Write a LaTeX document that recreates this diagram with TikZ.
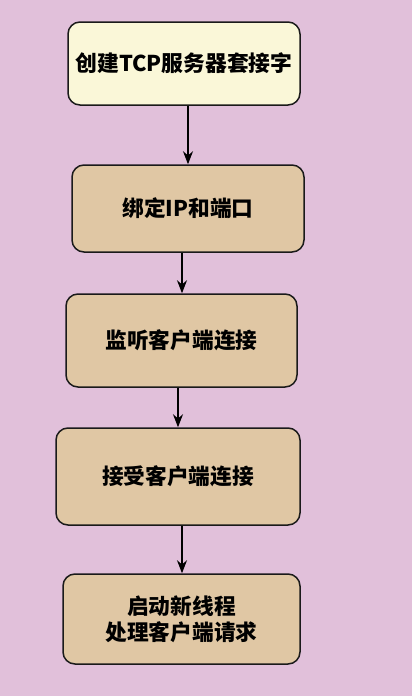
\documentclass[tikz,border=0pt]{standalone}
\usepackage{fontspec}
\newfontfamily\cjk{Noto Sans CJK SC}
\usetikzlibrary{arrows.meta}
\definecolor{pagebg}{RGB}{225,192,218}
\definecolor{startfill}{RGB}{250,247,216}
\definecolor{stepfill}{RGB}{224,199,164}
\definecolor{edge}{RGB}{26,26,26}
\tikzset{
  stepbox/.style={draw=edge, line width=1.5pt, rounded corners=12pt,
    fill=stepfill, inner sep=0pt, align=center,
    font=\cjk\bfseries\fontsize{21.7}{26}\selectfont},
  startbox/.style={stepbox, fill=startfill,
    font=\cjk\bfseries\fontsize{21.8}{26}\selectfont},
  flow/.style={draw=black, line width=1.2pt, -{Stealth[length=13pt,width=10pt]}}
}
\begin{document}
\begin{tikzpicture}[x=1pt,y=-1pt]
  \fill[pagebg] (0,0) rectangle (412,696);
  \useasboundingbox (0,0) rectangle (412,696);

  \node[startbox, minimum width=232pt, minimum height=83pt] (b1) at (184,63.5) {创建TCP服务器套接字};
  \node[stepbox, minimum width=232pt, minimum height=87pt] (b2) at (188,208.5) {绑定IP和端口};
  \node[stepbox, minimum width=231pt, minimum height=93pt] (b3) at (181.5,340.5) {监听客户端连接};
  \node[stepbox, minimum width=244pt, minimum height=97pt] (b4) at (178,476.5) {接受客户端连接};
  \node[stepbox, minimum width=237pt, minimum height=90pt] (b5) at (181.5,619) {启动新线程\\处理客户端请求};

  % vertical connectors, each at its own x position
  \coordinate (x1) at (188,0);
  \coordinate (x2) at (182,0);
  \coordinate (x3) at (178,0);
  \coordinate (x4) at (182,0);
  \draw[flow] (b1.south -| x1) -- (b2.north -| x1);
  \draw[flow] (b2.south -| x2) -- (b3.north -| x2);
  \draw[flow] (b3.south -| x3) -- (b4.north -| x3);
  \draw[flow] (b4.south -| x4) -- (b5.north -| x4);
\end{tikzpicture}
\end{document}
